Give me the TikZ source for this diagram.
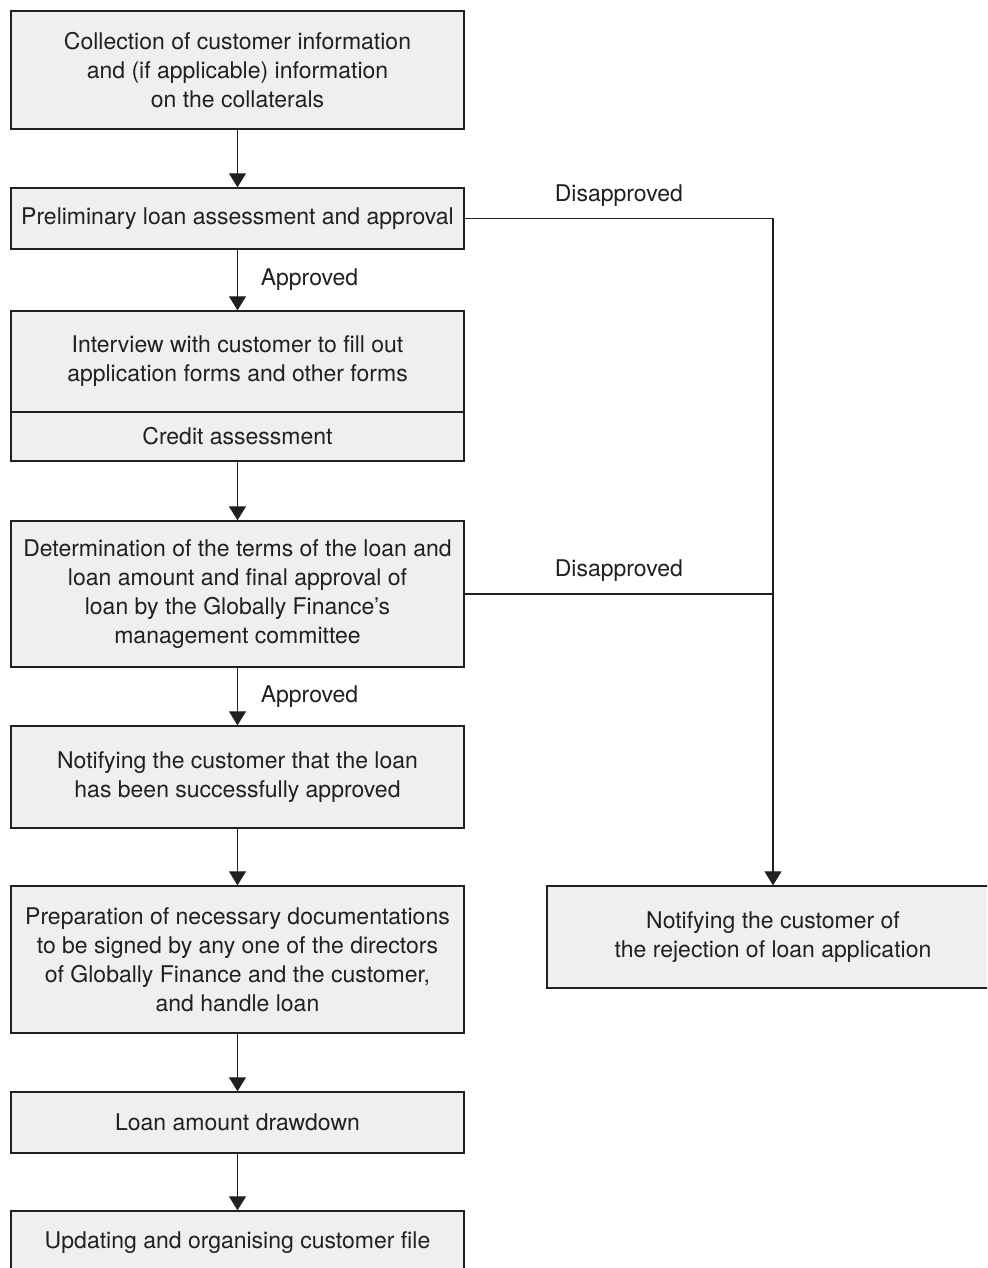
\documentclass[tikz,border=0pt]{standalone}
\usepackage{fontspec}
\setmainfont{TeX Gyre Heros}
\usetikzlibrary{arrows.meta}
\definecolor{boxfill}{HTML}{EFEFEF}
\definecolor{ink}{HTML}{231F20}
\tikzset{
  stage/.style={draw=ink, fill=boxfill, line width=0.7pt, minimum width=226.5pt,
    inner sep=0pt, align=center, text=ink,
    font=\fontsize{11.5}{14.5}\selectfont},
  flow/.style={draw=ink, line width=0.6pt, -{Triangle[width=8.5pt,length=7pt]}},
  lbl/.style={text=ink, font=\fontsize{11.5}{14.5}\selectfont}
}
\begin{document}
\begin{tikzpicture}[x=0.5pt, y=-0.5pt]
    \useasboundingbox (0,0) rectangle (987,1268);
    \clip (0,0) rectangle (987,1268);
    \fill[white] (0,0) rectangle (987,1268);

    % Main column
    \node[stage, minimum height=59pt] (collect) at (237.5,70)
        {Collection of customer information\\and (if applicable) information\\on the collaterals};
    \node[stage, minimum height=30.5pt] (prelim) at (237.5,218.5)
        {Preliminary loan assessment and approval};
    \node[stage, minimum height=50.5pt] (interview) at (237.5,361.5)
        {Interview with customer to fill out\\application forms and other forms};
    \node[stage, minimum height=24.5pt] (credit) at (237.5,436.5)
        {Credit assessment};
    \node[stage, minimum height=73pt] (terms) at (237.5,594)
        {Determination of the terms of the loan and\\loan amount and final approval of\\loan by the Globally Finance's\\management committee};
    \node[stage, minimum height=51pt] (notify) at (237.5,777)
        {Notifying the customer that the loan\\has been successfully approved};
    \node[stage, minimum height=73.5pt] (prep) at (237.5,959.5)
        {Preparation of necessary documentations\\to be signed by any one of the directors\\of Globally Finance and the customer,\\and handle loan};
    \node[stage, minimum height=30.5pt] (drawdown) at (237.5,1122.5)
        {Loan amount drawdown};
    \node[stage, minimum height=32pt] (update) at (237.5,1243)
        {Updating and organising customer file};

    % Rejection branch
    \node[stage, minimum width=226pt, minimum height=51pt] (reject) at (773,937)
        {Notifying the customer of\\the rejection of loan application};
    \coordinate (join) at (terms.east -| reject.north);

    % Connectors
    \draw[flow] (collect) -- (prelim);
    \draw[flow] (prelim) -- node[lbl, right=8pt] {Approved} (interview);
    \draw[flow] (credit) -- (terms);
    \draw[flow] (terms) -- node[lbl, right=8pt] {Approved} (notify);
    \draw[flow] (notify) -- (prep);
    \draw[flow] (prep) -- (drawdown);
    \draw[flow] (drawdown) -- (update);
    \draw[flow] (prelim.east) -- node[lbl, above=2.5pt] {Disapproved} (prelim.east -| reject.north) -- (reject.north);
    \draw[draw=ink, line width=0.6pt] (terms.east) -- node[lbl, above=2.5pt] {Disapproved} (join);
\end{tikzpicture}
\end{document}
